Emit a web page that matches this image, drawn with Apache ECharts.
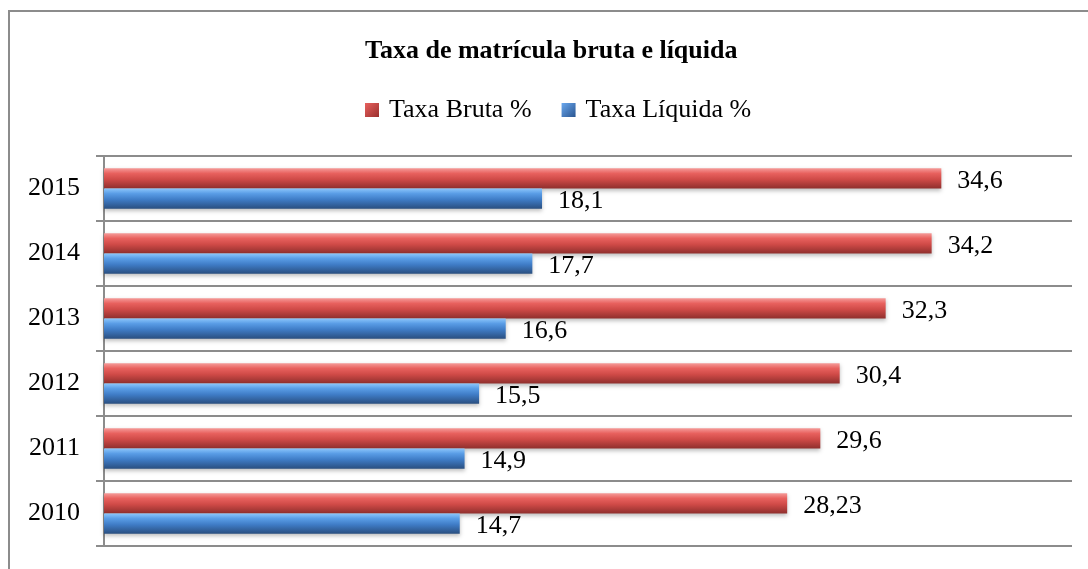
<!DOCTYPE html>
<html><head><meta charset="utf-8">
<script src="https://cdn.jsdelivr.net/npm/echarts@6/dist/echarts.min.js"></script>
<style>html,body{margin:0;padding:0;background:#fff}#c{width:1088px;height:569px}</style>
</head><body><div id="c"></div>
<script>
const years = ['2010','2011','2012','2013','2014','2015'];
const taxaBruta = [28.23, 29.6, 30.4, 32.3, 34.2, 34.6];
const taxaLiquida = [14.7, 14.9, 15.5, 16.6, 17.7, 18.1];

const FONT = '"Liberation Serif","Times New Roman",serif';
const redGrad = new echarts.graphic.LinearGradient(0,0,0,1,[
  {offset:0,color:'#f59a98'},{offset:0.25,color:'#e8615e'},{offset:0.55,color:'#cf4a47'},{offset:1,color:'#8f2f2d'}]);
const blueGrad = new echarts.graphic.LinearGradient(0,0,0,1,[
  {offset:0,color:'#8cc6fb'},{offset:0.25,color:'#5a9de6'},{offset:0.55,color:'#3f7cc6'},{offset:1,color:'#2a4f80'}]);
const redIcon = new echarts.graphic.LinearGradient(0,0,1,1,[{offset:0,color:'#e8615e'},{offset:1,color:'#9a2f2d'}]);
const blueIcon = new echarts.graphic.LinearGradient(0,0,1,1,[{offset:0,color:'#6aa8ef'},{offset:1,color:'#2a5590'}]);
const fmt = p => String(p.value).replace('.', ',');

const chart = echarts.init(document.getElementById('c'));
chart.setOption({
  animation:false,
  graphic:[{type:'rect',shape:{x:9,y:11,width:1200,height:800},style:{fill:'none',stroke:'#8c8c8c',lineWidth:2},z:-1}],
  title:{text:'Taxa de matrícula bruta e líquida',left:360,top:33,
    textStyle:{fontFamily:FONT,fontSize:26,fontWeight:'bold',color:'#000'}},
  legend:{left:360,top:92,itemWidth:14,itemHeight:14,itemGap:30,icon:'rect',
    textStyle:{fontFamily:FONT,fontSize:26,color:'#000',padding:[0,0,0,5]},
    data:[{name:'Taxa Bruta %',itemStyle:{color:redIcon}},{name:'Taxa Líquida %',itemStyle:{color:blueIcon}}]},
  grid:{left:104,right:16,top:156,bottom:23,containLabel:false},
  xAxis:{type:'value',min:0,max:40,show:false},
  yAxis:{type:'category',data:years,
    axisLine:{show:true,lineStyle:{color:'#8c8c8c',width:2}},
    axisTick:{show:true,length:8,lineStyle:{color:'#8c8c8c',width:2}},
    splitLine:{show:true,lineStyle:{color:'#8c8c8c',width:2}},
    axisLabel:{fontFamily:FONT,fontSize:26,color:'#000',margin:24,padding:[3,0,0,0]}},
  series:[
    {name:'Taxa Bruta %',type:'bar',data:taxaBruta,barGap:'0%',barCategoryGap:'38%',
     itemStyle:{color:redGrad,shadowColor:'rgba(0,0,0,0.25)',shadowBlur:4,shadowOffsetY:2},
     label:{show:true,position:'right',distance:16,formatter:fmt,fontFamily:FONT,fontSize:26,color:'#000',offset:[0,3]}},
    {name:'Taxa Líquida %',type:'bar',data:taxaLiquida,barGap:'0%',barCategoryGap:'38%',
     itemStyle:{color:blueGrad,shadowColor:'rgba(0,0,0,0.25)',shadowBlur:4,shadowOffsetY:2},
     label:{show:true,position:'right',distance:16,formatter:fmt,fontFamily:FONT,fontSize:26,color:'#000',offset:[0,3]}}
  ]
});
</script></body></html>
